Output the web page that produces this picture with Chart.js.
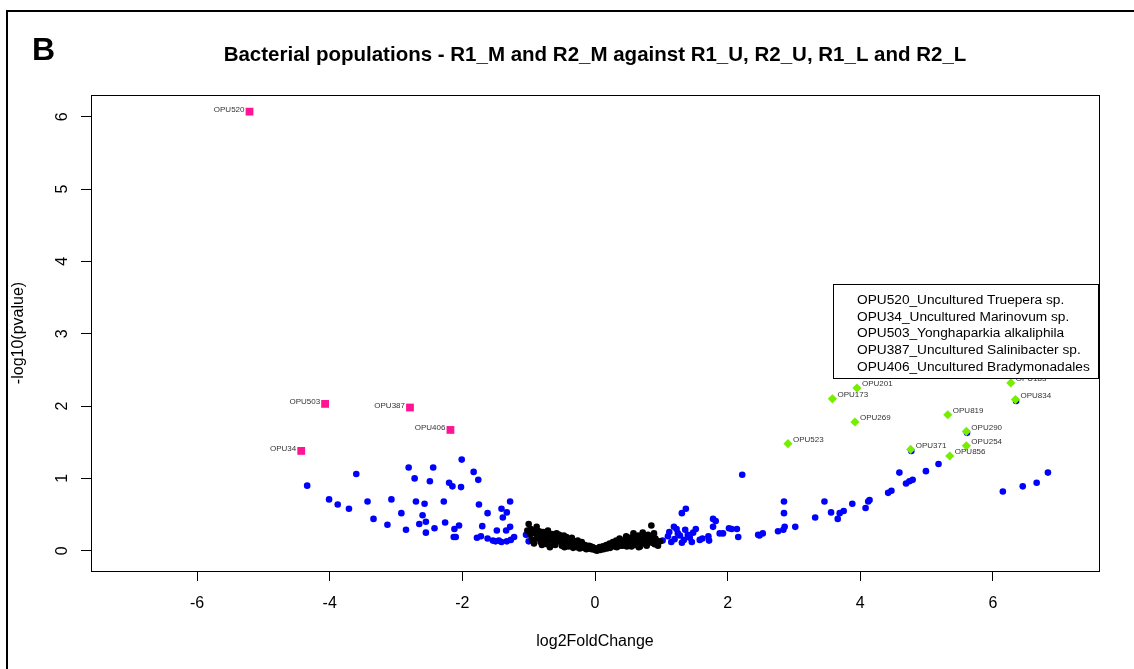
<!DOCTYPE html>
<html>
<head>
<meta charset="utf-8">
<script src="https://cdn.jsdelivr.net/npm/chart.js@4.4.1/dist/chart.umd.min.js"></script>
<style>
  body { margin: 0; background: #fff; }
  #wrap { width: 1134px; height: 669px; }
</style>
</head>
<body>
<div id="wrap"><canvas id="myChart" width="1134" height="669"></canvas></div>
<script>
var chartTitle = 'Bacterial populations - R1_M and R2_M against R1_U, R2_U, R1_L and R2_L';
var xTicks = [-6, -4, -2, 0, 2, 4, 6];
var yTicks = [0, 1, 2, 3, 4, 5, 6];

// significant, down (pink squares)
var downNames = ["OPU520", "OPU503", "OPU387", "OPU406", "OPU34"];
var downX = [-5.21, -4.07, -2.79, -2.18, -4.43];
var downY = [6.07, 2.03, 1.98, 1.67, 1.38];

// significant, up (green diamonds)
var upNames = ["OPU201", "OPU173", "OPU269", "OPU523", "OPU819", "OPU290", "OPU254", "OPU371", "OPU856", "OPU183", "OPU834"];
var upX = [3.95, 3.58, 3.92, 2.91, 5.32, 5.60, 5.60, 4.76, 5.35, 6.27, 6.34];
var upY = [2.25, 2.10, 1.78, 1.48, 1.88, 1.65, 1.45, 1.40, 1.31, 2.32, 2.09];

// |log2FC| > 1, not significant (blue)
var bluePoints = [
  [-4.34,0.90],[-3.60,1.06],[-4.01,0.71],[-3.88,0.64],[-3.71,0.58],[-3.43,0.68],[-3.34,0.44],[-3.13,0.36],
  [-3.07,0.71],[-2.92,0.52],[-2.85,0.29],[-2.81,1.15],[-2.72,1.00],[-2.70,0.68],[-2.60,0.49],[-2.65,0.37],
  [-2.55,0.40],[-2.55,0.25],[-2.57,0.65],[-2.49,0.96],[-2.44,1.15],[-2.42,0.31],[-2.28,0.68],[-2.26,0.39],
  [-2.20,0.94],[-2.15,0.89],[-2.02,0.88],[-2.01,1.26],[-2.12,0.30],[-2.05,0.35],[-2.13,0.19],[-2.10,0.19],
  [-1.83,1.09],[-1.76,0.98],[-1.75,0.64],[-1.62,0.52],[-1.70,0.34],[-1.78,0.18],[-1.72,0.20],[-1.62,0.17],
  [-1.54,0.14],[-1.48,0.28],[-1.41,0.58],[-1.39,0.46],[-1.33,0.53],[-1.28,0.68],[-1.34,0.28],[-1.28,0.33],
  [-1.41,0.12],[-1.33,0.13],[-1.27,0.15],[-1.22,0.19],[-1.04,0.22],[-1.00,0.13],[-1.50,0.13],[-1.45,0.14],
  [2.22,1.05],[1.31,0.52],[1.37,0.58],[1.78,0.44],[1.82,0.41],[1.78,0.33],[1.19,0.33],[1.23,0.30],
  [1.36,0.29],[1.52,0.30],[1.28,0.21],[1.43,0.18],[1.31,0.11],[1.58,0.15],[1.71,0.20],[1.72,0.14],
  [1.88,0.24],[1.93,0.24],[2.06,0.30],[2.14,0.30],[2.16,0.19],[2.46,0.22],[2.53,0.24],[2.76,0.27],
  [2.84,0.29],[2.86,0.33],[3.02,0.33],[2.85,0.52],[2.85,0.68],[3.32,0.46],[3.46,0.68],[3.56,0.53],
  [3.69,0.52],[3.75,0.55],[3.66,0.44],[3.88,0.65],[4.08,0.59],[4.12,0.68],[4.14,0.70],[4.42,0.80],
  [4.47,0.83],[4.59,1.08],[4.69,0.93],[4.74,0.96],[4.79,0.98],[4.99,1.10],[5.18,1.20],[6.15,0.82],
  [6.45,0.89],[6.66,0.94],[6.83,1.08],[1.10,0.20],[1.15,0.12],[1.25,0.24],[1.48,0.25],[1.02,0.14],
  [1.40,0.22],[1.62,0.17],[2.02,0.31],[2.48,0.21],[1.20,0.16],[1.34,0.15],[1.46,0.12],[1.12,0.26],
  [4.77,1.38],[5.61,1.63],[6.35,2.07]
];

// not significant (black)
var nsPoints = [
  [-1.00,0.37],[-0.88,0.33],[-0.90,0.24],[-0.95,0.15],[-0.92,0.10],[-0.85,0.20],[-0.82,0.12],[-0.78,0.26],
  [-0.75,0.17],[-0.72,0.09],[-0.70,0.22],[-0.66,0.14],[-0.63,0.19],[-0.60,0.08],[-0.58,0.24],[-0.55,0.13],
  [-0.52,0.18],[-0.50,0.07],[-0.47,0.21],[-0.45,0.11],[-0.42,0.15],[-0.40,0.06],[-0.37,0.12],[-0.35,0.18],
  [-0.32,0.08],[-0.30,0.13],[-0.27,0.05],[-0.25,0.10],[-0.22,0.07],[-0.20,0.12],[-0.17,0.04],[-0.15,0.08],
  [-0.12,0.05],[-0.10,0.03],[-0.07,0.06],[-0.05,0.02],[-0.02,0.04],[0.00,0.01],[0.02,0.03],[0.05,0.02],
  [0.07,0.05],[0.10,0.03],[0.12,0.06],[0.15,0.04],[0.17,0.08],[0.20,0.05],[0.22,0.10],[0.25,0.07],
  [0.27,0.12],[0.30,0.06],[0.32,0.14],[0.35,0.09],[0.37,0.17],[0.40,0.11],[0.42,0.07],[0.45,0.15],
  [0.47,0.20],[0.50,0.10],[0.52,0.18],[0.55,0.13],[0.58,0.24],[0.60,0.08],[0.62,0.16],[0.65,0.21],
  [0.67,0.12],[0.70,0.19],[0.72,0.25],[0.75,0.10],[0.77,0.16],[0.80,0.22],[0.82,0.13],[0.85,0.35],
  [0.87,0.18],[0.90,0.09],[0.93,0.14],[0.98,0.13],[-0.97,0.30],[-0.60,0.15],[-0.45,0.17],[0.35,0.13],
  [0.55,0.06],[0.68,0.06],[-0.80,0.17],[-0.68,0.05],
  [-0.98,0.22],[-0.93,0.28],[-0.88,0.17],[-0.84,0.27],[-0.80,0.08],[-0.77,0.21],[-0.74,0.13],[-0.71,0.28],
  [-0.69,0.17],[-0.65,0.23],[-0.62,0.11],[-0.57,0.17],[-0.54,0.22],[-0.49,0.14],[-0.46,0.05],[-0.43,0.19],
  [-0.39,0.09],[-0.36,0.15],[-0.33,0.04],[-0.29,0.10],[-0.26,0.14],[-0.23,0.03],[-0.19,0.09],[-0.16,0.06],
  [-0.13,0.02],[-0.09,0.07],[-0.04,0.05],[0.03,0.00],[0.08,0.01],[0.13,0.02],[0.18,0.03],[0.23,0.04],
  [0.28,0.09],[0.33,0.05],[0.38,0.07],[0.43,0.12],[0.48,0.06],[0.53,0.09],[0.57,0.19],[0.63,0.11],
  [0.66,0.05],[0.71,0.14],[0.74,0.20],[0.78,0.07],[0.83,0.17],[0.86,0.11],[0.89,0.24],[0.91,0.17],
  [0.95,0.07],[-1.02,0.28]
];

var legendLines = [
  "OPU520_Uncultured Truepera sp.",
  "OPU34_Uncultured Marinovum sp.",
  "OPU503_Yonghaparkia alkaliphila",
  "OPU387_Uncultured Salinibacter sp.",
  "OPU406_Uncultured Bradymonadales"
];

var FONT = "'Liberation Sans', Arial, sans-serif";

function toXY(xs, ys) {
  return xs.map(function (x, i) { return { x: x, y: ys[i] }; });
}
function pairs(list) {
  return list.map(function (p) { return { x: p[0], y: p[1] }; });
}

// frame, title, box, point labels and legend
var extras = {
  id: 'extras',
  beforeDraw: function (chart) {
    var ctx = chart.ctx;
    var a = chart.chartArea;
    ctx.save();
    ctx.fillStyle = '#fff';
    ctx.fillRect(0, 0, chart.width, chart.height);
    ctx.strokeStyle = '#000';
    ctx.lineWidth = 2;
    ctx.beginPath();
    ctx.moveTo(7, 669); ctx.lineTo(7, 11); ctx.lineTo(1134, 11);
    ctx.stroke();
    ctx.fillStyle = '#000';
    ctx.font = "bold 32px " + FONT;
    ctx.textBaseline = 'alphabetic';
    ctx.textAlign = 'left';
    ctx.fillText('B', 32, 60);
    ctx.font = "bold 20.5px " + FONT;
    ctx.textAlign = 'center';
    ctx.textBaseline = 'middle';
    ctx.fillText(chartTitle, (a.left + a.right) / 2, 55);
    ctx.restore();
  },
  afterDraw: function (chart) {
    var ctx = chart.ctx;
    var a = chart.chartArea;
    ctx.save();
    ctx.font = "8px " + FONT;
    ctx.fillStyle = '#333';
    ctx.textBaseline = 'middle';
    var dm = chart.getDatasetMeta(1);
    ctx.textAlign = 'right';
    dm.data.forEach(function (el, i) {
      ctx.fillText(downNames[i], el.x - 5, el.y - 2);
    });
    var um = chart.getDatasetMeta(0);
    ctx.textAlign = 'left';
    um.data.forEach(function (el, i) {
      ctx.fillText(upNames[i], el.x + 5, el.y - 4);
    });
    // plot box
    ctx.strokeStyle = '#000';
    ctx.lineWidth = 1;
    ctx.strokeRect(a.left + 0.5, a.top + 0.5, a.right - a.left, a.bottom - a.top);
    // legend
    ctx.fillStyle = '#fff';
    ctx.fillRect(833, 284, 265, 94);
    ctx.strokeRect(833.5, 284.5, 265, 94);
    ctx.fillStyle = '#000';
    ctx.font = "13.7px " + FONT;
    ctx.textAlign = 'left';
    legendLines.forEach(function (t, i) {
      ctx.fillText(t, 857, 300 + i * 16.8);
    });
    ctx.restore();
  }
};

var ctx = document.getElementById('myChart');
new Chart(ctx, {
  type: 'scatter',
  data: {
    datasets: [
      { label: 'up', data: toXY(upX, upY), backgroundColor: '#76EE00', borderColor: '#76EE00', borderWidth: 0, pointStyle: 'rectRot', pointRadius: 4.6, pointHoverRadius: 4.6 },
      { label: 'down', data: toXY(downX, downY), backgroundColor: '#FF1493', borderColor: '#FF1493', borderWidth: 0, pointStyle: 'rect', pointRadius: 5.5, pointHoverRadius: 5.5 },
      { label: 'ns', data: pairs(nsPoints), backgroundColor: '#000', borderColor: '#000', borderWidth: 0, pointRadius: 3.3, pointHoverRadius: 3.3 },
      { label: 'fc', data: pairs(bluePoints), backgroundColor: '#0000FF', borderColor: '#0000FF', borderWidth: 0, pointRadius: 3.3, pointHoverRadius: 3.3 }
    ]
  },
  options: {
    responsive: false,
    animation: false,
    devicePixelRatio: 1,
    events: [],
    layout: { padding: { left: 0, right: 35, top: 95, bottom: 0 } },
    plugins: {
      legend: { display: false },
      tooltip: { enabled: false },
      title: { display: false }
    },
    scales: {
      x: {
        type: 'linear',
        min: -7.6,
        max: 7.6,
        afterBuildTicks: function (s) { s.ticks = xTicks.map(function (v) { return { value: v }; }); },
        afterFit: function (s) { s.height = 98; },
        grid: { display: true, drawOnChartArea: false, drawTicks: true, tickLength: 10, color: '#000' },
        border: { display: false },
        ticks: { color: '#000', font: { family: FONT, size: 16 }, padding: 13, maxRotation: 0 },
        title: { display: true, text: 'log2FoldChange', color: '#000', font: { family: FONT, size: 16 }, padding: { top: 0, bottom: 18 } }
      },
      y: {
        type: 'linear',
        min: -0.28,
        max: 6.3,
        afterBuildTicks: function (s) { s.ticks = yTicks.map(function (v) { return { value: v }; }); },
        afterFit: function (s) { s.width = 91; },
        grid: { display: true, drawOnChartArea: false, drawTicks: true, tickLength: 10, color: '#000' },
        border: { display: false },
        ticks: { color: '#000', font: { family: FONT, size: 16 }, padding: 14, minRotation: 90, maxRotation: 90, crossAlign: 'center' },
        title: { display: true, text: '-log10(pvalue)', color: '#000', font: { family: FONT, size: 16 }, padding: { top: 9, bottom: 0 } }
      }
    }
  },
  plugins: [extras]
});
</script>
</body>
</html>
